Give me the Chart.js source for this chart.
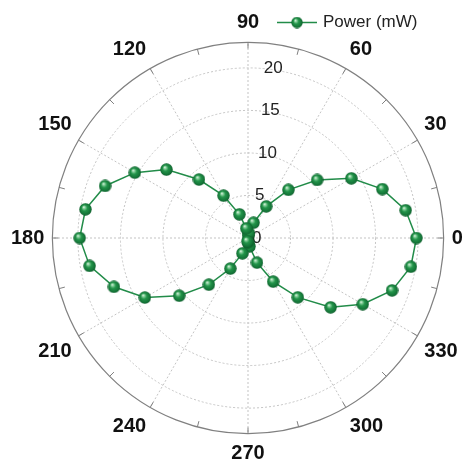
<!DOCTYPE html>
<html>
<head>
<meta charset="utf-8">
<script src="https://cdn.jsdelivr.net/npm/chart.js@4.4.1/dist/chart.umd.min.js"></script>
<style>
  html, body { margin: 0; padding: 0; background: #ffffff; overflow: hidden; }
  #wrap { width: 466px; height: 466px; overflow: hidden; position: relative; }
  #polar { position: absolute; left: 0; top: 0; }
</style>
</head>
<body>
<div id="wrap"><canvas id="polar" width="475" height="476"></canvas></div>
<script>
// Measurement angles (degrees, counter-clockwise from the +x direction)
const angles = [0, 10, 20, 30, 40, 50, 60, 70, 80, 90, 100, 110, 120, 130, 140, 150, 160, 170,
                180, 190, 200, 210, 220, 230, 240, 250, 260, 270, 280, 290, 300, 310, 320, 330, 340, 350];
// Measured power at each angle (mW)
const power = [19.80, 18.82, 16.81, 14.03, 10.61, 7.39, 4.29, 1.91, 0.60, 0.30, 1.15, 2.96, 5.75, 8.97, 12.51, 15.36, 17.88, 19.40,
               19.79, 18.91, 16.78, 14.00, 10.56, 7.16, 4.15, 1.92, 0.40, 0.50, 1.00, 3.08, 5.92, 9.11, 12.68, 15.57, 18.02, 19.44];
const seriesLabel = 'Power (mW)';
// Radial axis
const radialTicks = [0, 5, 10, 15, 20];
const radialMax = 23;
// Angular axis labels and minor tick spacing
const angleTickLabels = [0, 30, 60, 90, 120, 150, 180, 210, 240, 270, 300, 330];
const minorTickStep = 15;

// Radar charts run clockwise from the top, so order the angles accordingly
const clockwiseKey = a => (90 - a + 360) % 360;
const radarLabels = angles.slice().sort((a, b) => clockwiseKey(a) - clockwiseKey(b));
const radarData = radarLabels.map(a => power[angles.indexOf(a)]);

const GREEN_LINE = '#228c49';
const FONT = 'Liberation Sans, Arial, Helvetica, sans-serif';

// Shaded sphere used as the point marker
function makeSphere(d) {
  const c = document.createElement('canvas');
  c.width = d; c.height = d;
  const g = c.getContext('2d');
  const r = d / 2;
  const grad = g.createRadialGradient(r * 0.72, r * 0.62, 0, r, r, r);
  grad.addColorStop(0, '#f4fbf5');
  grad.addColorStop(0.18, '#8fd3a2');
  grad.addColorStop(0.45, '#23954a');
  grad.addColorStop(0.85, '#137236');
  grad.addColorStop(1, '#0b5426');
  g.fillStyle = grad;
  g.beginPath();
  g.arc(r, r, r - 0.3, 0, Math.PI * 2);
  g.fill();
  return c;
}
const sphere = makeSphere(13);
const legendSphere = makeSphere(12);

// Minor ticks on the outer ring and radial value labels
const polarDecor = {
  id: 'polarDecor',
  beforeDatasetsDraw(chart) {
    const s = chart.scales.r;
    const ctx = chart.ctx;
    const xc = s.xCenter, yc = s.yCenter, R = s.drawingArea;
    ctx.save();
    ctx.strokeStyle = '#7f7f7f';
    ctx.lineWidth = 1;
    for (let a = 0; a < 360; a += minorTickStep) {
      const t = a * Math.PI / 180;
      ctx.beginPath();
      ctx.moveTo(xc + Math.cos(t) * (R - 6), yc - Math.sin(t) * (R - 6));
      ctx.lineTo(xc + Math.cos(t) * R, yc - Math.sin(t) * R);
      ctx.stroke();
    }
    ctx.fillStyle = '#222222';
    ctx.font = '17px ' + FONT;
    ctx.textAlign = 'left';
    ctx.textBaseline = 'middle';
    const tilt = 4 * Math.PI / 180;
    radialTicks.forEach(v => {
      const d = s.getDistanceFromCenterForValue(v);
      ctx.fillText(String(v), xc + 4 + d * Math.sin(tilt), yc - d * Math.cos(tilt));
    });
    ctx.restore();
  },
  afterDraw(chart) {
    // Legend entry: line with marker, then the series name
    const ctx = chart.ctx;
    const y = 22.5;
    ctx.save();
    ctx.strokeStyle = GREEN_LINE;
    ctx.lineWidth = 1.5;
    ctx.beginPath();
    ctx.moveTo(277, y);
    ctx.lineTo(317, y);
    ctx.stroke();
    ctx.drawImage(legendSphere, 297 - 6, y - 6);
    ctx.fillStyle = '#222222';
    ctx.font = '17px ' + FONT;
    ctx.textAlign = 'left';
    ctx.textBaseline = 'middle';
    ctx.fillText(chart.data.datasets[0].label, 323, y);
    ctx.restore();
  }
};

const isLabelled = a => angleTickLabels.includes(Number(a));

new Chart(document.getElementById('polar'), {
  type: 'radar',
  data: {
    labels: radarLabels,
    datasets: [{
      label: seriesLabel,
      data: radarData,
      borderColor: GREEN_LINE,
      borderWidth: 1.5,
      fill: false,
      tension: 0,
      pointStyle: sphere,
      pointRadius: 6.5
    }]
  },
  options: {
    responsive: false,
    animation: false,
    devicePixelRatio: 1,
    layout: { padding: 0 },
    plugins: {
      legend: { display: false },
      tooltip: { enabled: false }
    },
    scales: {
      r: {
        min: 0,
        max: radialMax,
        startAngle: 0,
        afterBuildTicks: scale => {
          scale.ticks = radialTicks.concat([radialMax]).map(v => ({ value: v }));
        },
        ticks: { display: false },
        grid: {
          circular: true,
          color: c => (c.tick && c.tick.value >= radialMax) ? '#808080' : '#c4c4c4',
          lineWidth: c => (c.tick && c.tick.value >= radialMax) ? 1.2 : 1
        },
        border: {
          dash: c => (c.tick && c.tick.value >= radialMax) ? [] : [2, 2]
        },
        angleLines: {
          display: true,
          color: c => isLabelled(radarLabels[c.index]) ? '#c4c4c4' : 'rgba(0,0,0,0)',
          lineWidth: c => isLabelled(radarLabels[c.index]) ? 1 : 0,
          borderDash: [2, 2]
        },
        pointLabels: {
          display: true,
          padding: 8,
          color: '#111111',
          callback: label => isLabelled(label) ? String(label) : '',
          font: c => c.label ? { family: FONT, size: 20, weight: 'bold' } : { family: FONT, size: 1 }
        }
      }
    }
  },
  plugins: [polarDecor]
});
</script>
</body>
</html>
